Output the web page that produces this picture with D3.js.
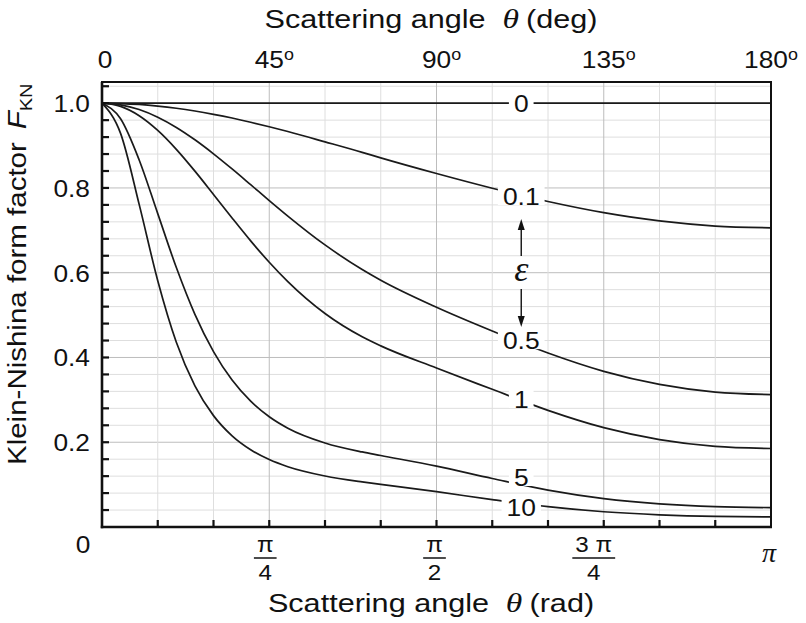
<!DOCTYPE html>
<html><head><meta charset="utf-8">
<script src="https://cdn.jsdelivr.net/npm/d3@7"></script>
<style>
body{margin:0;background:#fff}
svg text{font-family:"Liberation Sans",Arial,sans-serif;fill:#111}
</style>
</head><body>
<svg id="c" width="806" height="623"></svg>
<script>
// ---- data ----
const thetaDeg = [0,5,10,15,20,25,30,35,40,45,50,60,70,75,90,105,120,135,150,165,180];
const fEps0   = [1,1,1,1,1,1,1,1,1,1,1,1,1,1,1,1,1,1,1,1,1];
const fEps01  = [1,0.9992,0.9970,0.9932,0.9881,0.9816,0.9738,0.9650,0.9551,0.9444,0.9331,0.9088,0.8840,0.8709,0.8340,0.7993,0.7680,0.7417,0.7221,0.7101,0.7060];
const fEps05  = [1,0.9962,0.9850,0.9669,0.9428,0.9136,0.8805,0.8448,0.8077,0.7703,0.7337,0.6656,0.6075,0.5823,0.5185,0.4625,0.4105,0.3673,0.3365,0.3184,0.3125];
const fEps1   = [1,0.9924,0.9704,0.9357,0.8911,0.8397,0.7847,0.7291,0.6751,0.6247,0.5790,0.5037,0.4488,0.4274,0.3750,0.3249,0.2752,0.2344,0.2063,0.1903,0.1852];
const fEps5   = [1,0.9632,0.8661,0.7394,0.6122,0.5018,0.4137,0.3466,0.2968,0.2602,0.2332,0.1983,0.1771,0.1687,0.1435,0.1145,0.0871,0.0670,0.0545,0.0479,0.0458];
const fEps10  = [1,0.9287,0.7613,0.5812,0.4360,0.3329,0.2628,0.2151,0.1823,0.1591,0.1423,0.1204,0.1064,0.1006,0.0834,0.0646,0.0479,0.0360,0.0288,0.0250,0.0239];
const seriesLabels = ["0","0.1","0.5","1","5","10"];
const labelValues  = [1.0,0.781,0.441,0.302,0.118,0.047];
const degTicks = [0,45,90,135,180];
const degTickLabels = ["0","45","90","135","180"];
const radTicks = [45,90,135];
const radNumerators = ["π","π","3 π"];
const radDenominators = ["4","2","4"];
const yTickLabels = [0.2,0.4,0.6,0.8,1.0];

const series = [fEps0,fEps01,fEps05,fEps1,fEps5,fEps10];

// ---- layout ----
const svg = d3.select("#c");
const X0=102, X1=771, Y0=527, YT=82;
const x = d3.scaleLinear().domain([0,180]).range([X0,X1]);
const y = d3.scaleLinear().domain([0,1.05]).range([Y0,YT]);

function stext(parent, px, py, sx, anchor, size){
  return parent.append("text")
    .attr("transform",`translate(${px},${py}) scale(${sx},1)`)
    .attr("text-anchor",anchor).attr("font-size",size);
}

// grid
const g = svg.append("g");
const yMinor = d3.range(1,27).map(i=>+(i*0.04).toFixed(2));
g.selectAll(".hg").data(yMinor).join("line")
  .attr("x1",X0).attr("x2",X1).attr("y1",d=>y(d)).attr("y2",d=>y(d))
  .attr("stroke",d=>Math.abs(d/0.2-Math.round(d/0.2))<1e-6?"#bdbdbd":"#dedede")
  .attr("stroke-width",1);
const xMinor = d3.range(1,12).map(i=>i*15);
g.selectAll(".vg").data(xMinor).join("line")
  .attr("y1",YT).attr("y2",Y0).attr("x1",d=>x(d)).attr("x2",d=>x(d))
  .attr("stroke",d=>d%45===0?"#bdbdbd":"#dedede").attr("stroke-width",1);

// curves
const line = d3.line().x((d,i)=>x(thetaDeg[i])).y(d=>y(d)).curve(d3.curveMonotoneX);
svg.append("g").selectAll("path").data(series).join("path")
  .attr("d",line).attr("fill","none").attr("stroke","#1a1a1a").attr("stroke-width",1.7);

// frame and ticks
svg.append("rect").attr("x",X0).attr("y",YT).attr("width",X1-X0).attr("height",Y0-YT)
  .attr("fill","none").attr("stroke","#111").attr("stroke-width",2);
svg.append("line").attr("x1",X0).attr("x2",X0).attr("y1",YT).attr("y2",Y0+1.2).attr("stroke","#111").attr("stroke-width",2.6);
svg.append("line").attr("x1",X0-1.2).attr("x2",X1+1).attr("y1",Y0).attr("y2",Y0).attr("stroke","#111").attr("stroke-width",2.6);
svg.append("g").selectAll("line").data(yMinor).join("line")
  .attr("x1",X0).attr("x2",X0+7).attr("y1",d=>y(d)).attr("y2",d=>y(d))
  .attr("stroke","#111").attr("stroke-width",2.2);
svg.append("g").selectAll("line").data(xMinor).join("line")
  .attr("y1",Y0).attr("y2",Y0-7).attr("x1",d=>x(d)).attr("x2",d=>x(d))
  .attr("stroke","#111").attr("stroke-width",2.2);

// y tick labels
yTickLabels.forEach(v=>{
  stext(svg, 90, y(v)+9, 1.12, "end", 23.5).text(d3.format(".1f")(v));
});
// origin 0
stext(svg, 83, 553, 1.12, "middle", 23.5).text("0");

// top degree labels
degTicks.forEach((d,i)=>{
  const off = (d===0)?3:(d===180?0:5);
  const t = stext(svg, x(d)+off, 68, 1.12, "middle", 23.5);
  t.append("tspan").text(degTickLabels[i]);
  if(d!==0) t.append("tspan").attr("font-size",16).attr("dy",-8.5).text("o");
});

// bottom radian labels (fractions)
const radOff = [-4,-2,-10];
radTicks.forEach((d,i)=>{
  const cx = x(d)+radOff[i];
  const num = stext(svg, cx, 552, 1.1, "middle", 22).text(radNumerators[i]);
  const w = num.node().getComputedTextLength()*1.1;
  svg.append("line").attr("x1",cx-w/2-3).attr("x2",cx+w/2+3).attr("y1",558).attr("y2",558)
    .attr("stroke","#111").attr("stroke-width",1.5);
  stext(svg, cx, 580, 1.1, "middle", 22).text(radDenominators[i]);
});
stext(svg, x(180)-2, 562, 1.0, "middle", 28)
  .style("font-family","'Liberation Serif',serif").style("font-style","italic").text("π");

// axis titles
function title(px, py){
  return stext(svg, px, py, 1.2, "middle", 25.5);
}
const tt = title(431, 28);
tt.append("tspan").text("Scattering angle");
tt.append("tspan").attr("dx",14).style("font-family","'Liberation Serif',serif").style("font-style","italic").attr("font-size",28).text("θ");
tt.append("tspan").attr("dx",6).text("(deg)");
const bt = title(431, 612);
bt.append("tspan").text("Scattering angle");
bt.append("tspan").attr("dx",14).style("font-family","'Liberation Serif',serif").style("font-style","italic").attr("font-size",28).text("θ");
bt.append("tspan").attr("dx",6).text("(rad)");

const yt = svg.append("text").attr("transform","translate(26,465) rotate(-90) scale(1.18,1)")
  .attr("text-anchor","start").attr("font-size",25);
yt.append("tspan").text("Klein-Nishina form factor ");
yt.append("tspan").attr("dx",4).style("font-style","italic").text("F");
yt.append("tspan").attr("font-size",17).attr("dy",6).text("KN");

// series labels with knock-out
const labelTheta = 112.8;
seriesLabels.forEach((s,i)=>{
  const cx = x(labelTheta), cy = y(labelValues[i]);
  const t = stext(svg, cx, cy+8.6, 1.1, "middle", 24).text(s);
  const w = t.node().getComputedTextLength()*1.1;
  svg.insert("rect", function(){return t.node();})
    .attr("x",cx-w/2-5).attr("y",cy-9).attr("width",w+10).attr("height",18).attr("fill","#fff");
});

// epsilon with arrows
const ex = x(labelTheta);
svg.append("text").attr("x",ex).attr("y",281).attr("text-anchor","middle").attr("font-size",36)
  .style("font-family","'Liberation Serif',serif").style("font-style","italic").text("ε");
svg.append("line").attr("x1",ex).attr("x2",ex).attr("y1",256).attr("y2",228).attr("stroke","#111").attr("stroke-width",1.4);
svg.append("path").attr("d",`M${ex},219 L${ex-3.5},230 L${ex+3.5},230 Z`).attr("fill","#111");
svg.append("line").attr("x1",ex).attr("x2",ex).attr("y1",289).attr("y2",318).attr("stroke","#111").attr("stroke-width",1.4);
svg.append("path").attr("d",`M${ex},327 L${ex-3.5},316 L${ex+3.5},316 Z`).attr("fill","#111");
</script>
</body></html>
